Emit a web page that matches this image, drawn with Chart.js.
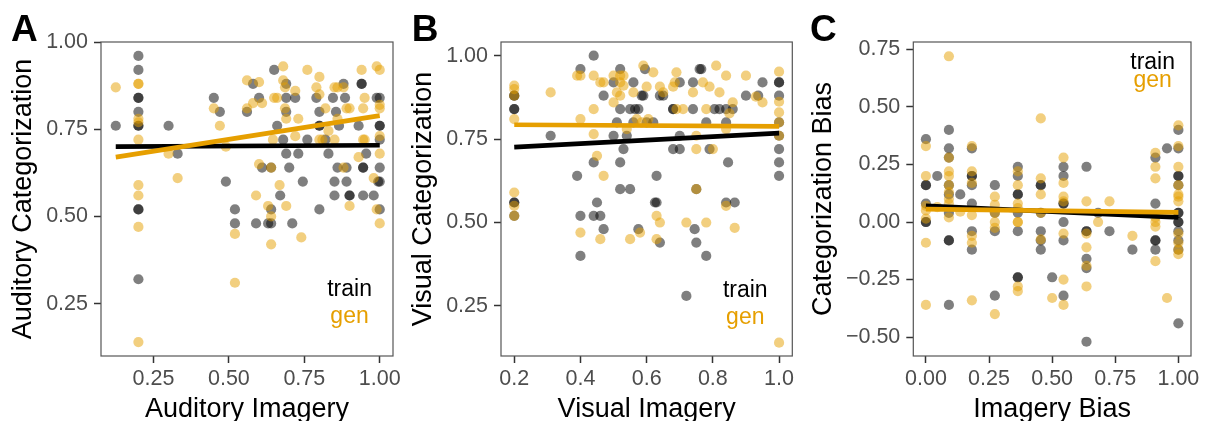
<!DOCTYPE html>
<html>
<head>
<meta charset="utf-8">
<script src="https://cdn.jsdelivr.net/npm/chart.js@4.4.0/dist/chart.umd.min.js"></script>
<style>
  body { margin: 0; background: #fff; }
  #wrap { position: relative; width: 1206px; height: 421px; overflow: hidden; }
  canvas { position: absolute; top: 0; }
</style>
</head>
<body>
<div id="wrap">
  <canvas id="chartA" width="400" height="421" style="left:0"></canvas>
  <canvas id="chartB" width="400" height="421" style="left:400px"></canvas>
  <canvas id="chartC" width="406" height="421" style="left:800px"></canvas>
</div>
<script>
// --- data: [x, y] per participant ---

// A: auditory imagery vs auditory categorization
const audTrain = [
  [0.125,0.76],[0.2,0.96],[0.2,0.92],[0.2,0.84],[0.2,0.84],[0.2,0.80],[0.2,0.76],[0.2,0.76],[0.2,0.52],[0.2,0.52],[0.2,0.32],
  [0.30,0.76],[0.33,0.68],[0.45,0.84],[0.47,0.80],[0.49,0.60],[0.52,0.52],[0.52,0.48],[0.56,0.80],[0.58,0.88],
  [0.59,0.48],[0.60,0.84],[0.61,0.64],[0.63,0.48],[0.64,0.48],[0.64,0.64],[0.64,0.52],[0.65,0.92],[0.66,0.76],
  [0.67,0.56],[0.69,0.88],[0.69,0.84],[0.69,0.80],[0.68,0.72],[0.69,0.68],[0.70,0.64],[0.71,0.48],[0.72,0.84],
  [0.73,0.68],[0.745,0.60],[0.76,0.72],[0.79,0.84],[0.80,0.80],[0.80,0.76],[0.80,0.76],[0.80,0.52],[0.82,0.72],
  [0.83,0.68],[0.845,0.84],[0.855,0.80],[0.86,0.64],[0.85,0.60],[0.85,0.56],[0.865,0.76],[0.88,0.88],[0.885,0.84],
  [0.89,0.64],[0.89,0.60],[0.90,0.56],[0.90,0.56],[0.93,0.76],[0.94,0.88],[0.94,0.88],[0.945,0.64],[0.945,0.64],
  [0.955,0.68],[0.945,0.56],[0.98,0.56],[0.99,0.84],[1.0,0.84],[1.0,0.76],[1.0,0.76],[1.0,0.72],[1.0,0.64],
  [1.0,0.60],[0.995,0.60],[1.0,0.52]
];
const audGen = [
  [0.125,0.87],[0.2,0.88],[0.2,0.88],[0.2,0.78],[0.2,0.77],[0.2,0.72],[0.2,0.59],[0.2,0.56],[0.2,0.47],[0.2,0.14],
  [0.30,0.68],[0.33,0.61],[0.45,0.81],[0.47,0.76],[0.49,0.70],[0.52,0.45],[0.52,0.31],[0.56,0.89],[0.56,0.81],
  [0.58,0.825],[0.60,0.885],[0.61,0.825],[0.60,0.65],[0.59,0.56],[0.63,0.53],[0.64,0.50],[0.64,0.42],[0.646,0.72],
  [0.65,0.84],[0.66,0.84],[0.68,0.93],[0.68,0.89],[0.686,0.87],[0.686,0.81],[0.69,0.78],[0.668,0.59],[0.69,0.53],
  [0.72,0.86],[0.73,0.78],[0.72,0.73],[0.74,0.44],[0.76,0.92],[0.80,0.90],[0.79,0.87],[0.80,0.85],[0.81,0.72],
  [0.82,0.81],[0.83,0.745],[0.85,0.87],[0.86,0.87],[0.85,0.72],[0.86,0.78],[0.88,0.87],[0.89,0.81],[0.90,0.81],
  [0.88,0.64],[0.90,0.53],[0.93,0.67],[0.94,0.92],[0.95,0.84],[0.945,0.81],[0.945,0.72],[0.99,0.93],[1.0,0.92],
  [1.0,0.82],[1.0,0.81],[1.0,0.73],[1.0,0.68],[0.98,0.61],[0.99,0.52],[1.0,0.48],[0.64,0.64],[0.80,0.72],[0.95,0.72]
];
const audFitX = [0.125, 1.0];
const audFitTrain = [0.700, 0.704];
const audFitGen = [0.670, 0.789];

// B: visual imagery vs visual categorization
const visTrain = [
  [0.2,0.88],[0.2,0.88],[0.2,0.84],[0.2,0.84],[0.2,0.56],[0.2,0.56],[0.2,0.52],
  [0.31,0.76],[0.39,0.64],[0.40,0.96],[0.40,0.52],[0.40,0.40],[0.44,1.00],[0.44,0.68],[0.44,0.52],[0.46,0.52],
  [0.45,0.56],[0.47,0.48],[0.47,0.88],[0.50,0.92],[0.50,0.76],[0.51,0.80],[0.52,0.96],[0.53,0.72],[0.52,0.68],
  [0.52,0.60],[0.55,0.60],[0.52,0.84],[0.55,0.84],[0.565,0.84],[0.575,0.84],[0.54,0.76],[0.56,0.92],[0.56,0.80],
  [0.575,0.48],[0.585,0.88],[0.59,0.88],[0.595,0.96],[0.60,0.80],[0.62,0.80],[0.63,0.64],[0.625,0.56],[0.63,0.56],
  [0.64,0.88],[0.65,0.88],[0.64,0.44],[0.68,0.84],[0.68,0.84],[0.68,0.72],[0.70,0.72],[0.70,0.76],[0.70,0.92],
  [0.72,0.28],[0.74,0.84],[0.74,0.92],[0.75,0.60],[0.745,0.48],[0.75,0.44],[0.76,0.96],[0.765,0.96],[0.78,0.80],
  [0.78,0.40],[0.79,0.72],[0.805,0.84],[0.82,0.84],[0.84,0.84],[0.86,0.84],[0.84,0.80],[0.846,0.68],[0.84,0.56],
  [0.866,0.56],[0.90,0.88],[0.937,0.88],[0.95,0.92],[1.0,0.92],[1.0,0.92],[1.0,0.88],[1.0,0.80],[1.0,0.76],
  [1.0,0.72],[1.0,0.68],[1.0,0.64]
];
const visGen = [
  [0.2,0.91],[0.2,0.90],[0.2,0.88],[0.2,0.81],[0.2,0.59],[0.2,0.55],[0.2,0.52],
  [0.31,0.89],[0.39,0.94],[0.40,0.94],[0.40,0.81],[0.40,0.47],[0.44,0.84],[0.44,0.94],[0.44,0.765],[0.45,0.70],
  [0.46,0.92],[0.47,0.92],[0.47,0.64],[0.46,0.45],[0.50,0.94],[0.52,0.94],[0.50,0.86],[0.51,0.89],[0.52,0.88],
  [0.52,0.92],[0.53,0.94],[0.53,0.91],[0.54,0.78],[0.55,0.45],[0.56,0.89],[0.57,0.81],[0.58,0.47],[0.59,0.97],
  [0.60,0.907],[0.605,0.81],[0.585,0.80],[0.62,0.95],[0.63,0.45],[0.63,0.52],[0.64,0.50],[0.64,0.907],[0.65,0.89],
  [0.68,0.907],[0.69,0.95],[0.685,0.92],[0.69,0.84],[0.71,0.84],[0.72,0.50],[0.74,0.89],[0.75,0.76],[0.75,0.72],
  [0.75,0.60],[0.77,0.92],[0.78,0.84],[0.78,0.50],[0.79,0.907],[0.80,0.72],[0.81,0.97],[0.82,0.89],[0.84,0.94],
  [0.84,0.78],[0.85,0.827],[0.86,0.86],[0.84,0.55],[0.866,0.484],[0.90,0.94],[0.93,0.877],[0.95,0.86],
  [1.0,0.952],[1.0,0.862],[1.0,0.83],[1.0,0.80],[1.0,0.76],[1.0,0.14]
];
const visFitX = [0.2, 1.0];
const visFitTrain = [0.726, 0.768];
const visFitGen = [0.793, 0.788];

// C: imagery bias vs categorization bias
const biasTrain = [
  [0,0.36],[0,0.16],[0,0.16],[0,0.08],[0,0.00],[0,0.00],[0.045,0.20],
  [0.091,0.40],[0.091,0.32],[0.091,0.28],[0.091,0.16],[0.091,0.12],[0.091,0.04],[0.091,-0.08],[0.091,-0.08],[0.091,-0.36],
  [0.136,0.12],
  [0.182,0.32],[0.182,0.20],[0.182,0.20],[0.182,0.16],[0.182,0.08],[0.182,-0.04],[0.182,-0.12],
  [0.273,0.16],[0.273,0.04],[0.273,-0.04],[0.273,-0.32],
  [0.364,0.24],[0.364,0.20],[0.364,0.12],[0.364,0.12],[0.364,0.04],[0.364,-0.04],[0.364,-0.24],[0.364,-0.24],
  [0.455,0.16],[0.455,0.16],[0.455,0.04],[0.455,-0.04],[0.455,-0.08],[0.455,-0.12],
  [0.5,-0.24],
  [0.545,0.24],[0.545,0.20],[0.545,0.08],[0.545,0.08],[0.545,0.00],[0.545,-0.08],[0.545,-0.32],
  [0.636,0.24],[0.636,-0.04],[0.636,-0.04],[0.636,-0.16],[0.636,-0.20],[0.636,-0.52],
  [0.682,0.04],[0.727,-0.04],[0.818,-0.12],
  [0.909,0.28],[0.909,0.08],[0.909,-0.08],[0.909,-0.08],[0.909,-0.12],
  [0.955,0.32],
  [1,0.40],[1,0.32],[1,0.20],[1,0.20],[1,0.16],[1,0.04],[1,0.04],[1,0.00],[1,0.00],[1,-0.04],[1,-0.08],[1,-0.12],[1,-0.44]
];
const biasGen = [
  [0,0.33],[0,0.20],[0,0.07],[0,0.05],[0,0.015],[0,-0.09],[0,-0.36],[0.045,0.065],
  [0.091,0.72],[0.091,0.28],[0.091,0.22],[0.091,0.20],[0.091,0.16],[0.091,0.13],[0.091,0.10],[0.091,0.08],[0.091,0.02],
  [0.136,0.045],
  [0.182,0.33],[0.182,0.22],[0.182,0.17],[0.182,0.03],[0.182,-0.06],[0.182,-0.09],[0.182,-0.34],
  [0.273,0.11],[0.273,0.075],[0.273,0.04],[0.273,0.00],[0.273,-0.025],[0.273,-0.40],
  [0.364,0.22],[0.364,0.16],[0.364,0.08],[0.364,0.06],[0.364,0.00],[0.364,0.00],[0.364,-0.28],[0.364,-0.30],
  [0.455,0.45],[0.455,0.19],[0.455,0.12],[0.455,0.04],[0.455,-0.075],
  [0.5,-0.33],
  [0.545,0.28],[0.545,0.17],[0.545,0.11],[0.545,0.09],[0.545,-0.05],[0.545,-0.25],[0.545,-0.36],
  [0.636,0.09],[0.636,-0.05],[0.636,-0.11],[0.636,-0.19],[0.636,-0.28],
  [0.682,0.00],[0.727,0.09],[0.818,-0.06],
  [0.909,0.30],[0.909,0.24],[0.909,0.19],[0.909,0.02],[0.909,0.00],[0.909,-0.02],[0.909,-0.17],
  [0.955,-0.33],
  [1,0.42],[1,0.33],[1,0.24],[1,0.16],[1,0.12],[1,0.11],[1,0.09],[1,-0.05],[1,-0.09],[1,-0.12],[1,-0.14]
];
const biasFitX = [0, 1];
const biasFitTrain = [0.070, 0.020];
const biasFitGen = [0.056, 0.042];

// tick labels
const ticksQuarter = [0.25, 0.50, 0.75, 1.00];
const ticksVisX = [0.2, 0.4, 0.6, 0.8, 1.0];
const ticksBiasX = [0.00, 0.25, 0.50, 0.75, 1.00];
const ticksBiasY = [-0.50, -0.25, 0.00, 0.25, 0.50, 0.75];
const groupLabels = ['train', 'gen'];

const FONT = "'Liberation Sans', Arial, Helvetica, sans-serif";
const TRAIN_COL = 'rgba(0,0,0,0.5)';
const GEN_COL = 'rgba(230,159,0,0.5)';

const fmt2 = v => (v < 0 ? '\u2212' : '') + Math.abs(v).toFixed(2);
const fmt1 = v => v.toFixed(1);

// box, panel letter and in-panel group labels
const panelDecor = {
    id: 'panelDecor',
    afterDraw(chart, args, opts) {
        const { ctx, chartArea: a, scales: { x, y } } = chart;
        ctx.save();
        ctx.strokeStyle = '#555';
        ctx.lineWidth = 1.2;
        ctx.strokeRect(a.left, a.top, a.right - a.left, a.bottom - a.top);

        ctx.fillStyle = '#000';
        ctx.font = 'bold 37px ' + FONT;
        ctx.textAlign = 'left';
        ctx.textBaseline = 'alphabetic';
        ctx.fillText(opts.letter, opts.letterX, 41);

        ctx.font = '23px ' + FONT;
        ctx.textAlign = 'center';
        const lx = x.getPixelForValue(opts.labelX);
        ctx.fillStyle = '#000';
        ctx.fillText(groupLabels[0], lx, y.getPixelForValue(opts.labelY[0]));
        ctx.fillStyle = '#E69F00';
        ctx.fillText(groupLabels[1], lx, y.getPixelForValue(opts.labelY[1]));
        ctx.restore();
    }
};

function axis(cfg) {
    return {
        type: 'linear',
        min: cfg.min,
        max: cfg.max,
        grid: { drawOnChartArea: false, drawTicks: true, tickLength: 7, tickColor: '#333', tickWidth: 1.5 },
        border: { display: false },
        ticks: {
            color: '#4d4d4d',
            font: { family: FONT, size: 21.5 },
            padding: cfg.tickPad,
            maxRotation: 0,
            autoSkip: false,
            callback: cfg.fmt
        },
        title: {
            display: true,
            text: cfg.title,
            color: '#000',
            font: { family: FONT, size: 27 },
            padding: cfg.titlePad
        },
        afterBuildTicks: s => { s.ticks = cfg.ticks.map(v => ({ value: v })); },
        afterFit: s => {
            if (s.isHorizontal()) s.height = cfg.size; else s.width = cfg.size;
            s.paddingLeft = s.paddingRight = s.paddingTop = s.paddingBottom = 0;
        }
    };
}

function pts(list) {
    return list.map(p => ({ x: p[0], y: p[1] }));
}

function fitLine(xs, ys) {
    return xs.map((x, i) => ({ x: x, y: ys[i] }));
}

function makePanel(id, p) {
    return new Chart(document.getElementById(id), {
        type: 'scatter',
        data: {
            datasets: [
                { data: fitLine(p.fitX, p.fitGen), showLine: true, borderColor: '#E69F00', borderWidth: 4.6, pointRadius: 0 },
                { data: fitLine(p.fitX, p.fitTrain), showLine: true, borderColor: '#000', borderWidth: 4.6, pointRadius: 0 },
                { data: pts(p.gen), backgroundColor: GEN_COL, pointBorderWidth: 0, borderWidth: 0, pointRadius: 5.1 },
                { data: pts(p.train), backgroundColor: TRAIN_COL, pointBorderWidth: 0, borderWidth: 0, pointRadius: 5.1 }
            ]
        },
        options: {
            responsive: false,
            animation: false,
            events: [],
            layout: { padding: { left: 0, right: p.padRight, top: 42, bottom: 0 } },
            plugins: {
                legend: { display: false },
                tooltip: { enabled: false },
                panelDecor: p.decor
            },
            scales: {
                x: axis(Object.assign({ size: 65, tickPad: 3, titlePad: { top: 0, bottom: -5 } }, p.x)),
                y: axis(Object.assign({ tickPad: 6, titlePad: { top: 7, bottom: 0 } }, p.y))
            }
        },
        plugins: [panelDecor]
    });
}

makePanel('chartA', {
    train: audTrain, gen: audGen, fitX: audFitX, fitTrain: audFitTrain, fitGen: audFitGen,
    padRight: 7,
    x: { min: 0.076, max: 1.044, ticks: ticksQuarter, fmt: fmt2, title: 'Auditory Imagery' },
    y: { min: 0.1, max: 1.0, ticks: ticksQuarter, fmt: fmt2, title: 'Auditory Categorization', size: 101 },
    decor: { letter: 'A', letterX: 11, labelX: 0.90, labelY: [0.273, 0.195] }
});

makePanel('chartB', {
    train: visTrain, gen: visGen, fitX: visFitX, fitTrain: visFitTrain, fitGen: visFitGen,
    padRight: 7.7,
    x: { min: 0.16, max: 1.04, ticks: ticksVisX, fmt: fmt1, title: 'Visual Imagery' },
    y: { min: 0.1, max: 1.041, ticks: ticksQuarter, fmt: fmt2, title: 'Visual Categorization', size: 101 },
    decor: { letter: 'B', letterX: 11.7, labelX: 0.898, labelY: [0.277, 0.196] }
});

makePanel('chartC', {
    train: biasTrain, gen: biasGen, fitX: biasFitX, fitTrain: biasFitTrain, fitGen: biasFitGen,
    padRight: 15,
    x: { min: -0.05, max: 1.05, ticks: ticksBiasX, fmt: fmt2, title: 'Imagery Bias' },
    y: { min: -0.582, max: 0.782, ticks: ticksBiasY, fmt: fmt2, title: 'Categorization Bias', size: 113.3 },
    decor: { letter: 'C', letterX: 10, labelX: 0.898, labelY: [0.666, 0.587] }
});
</script>
</body>
</html>
